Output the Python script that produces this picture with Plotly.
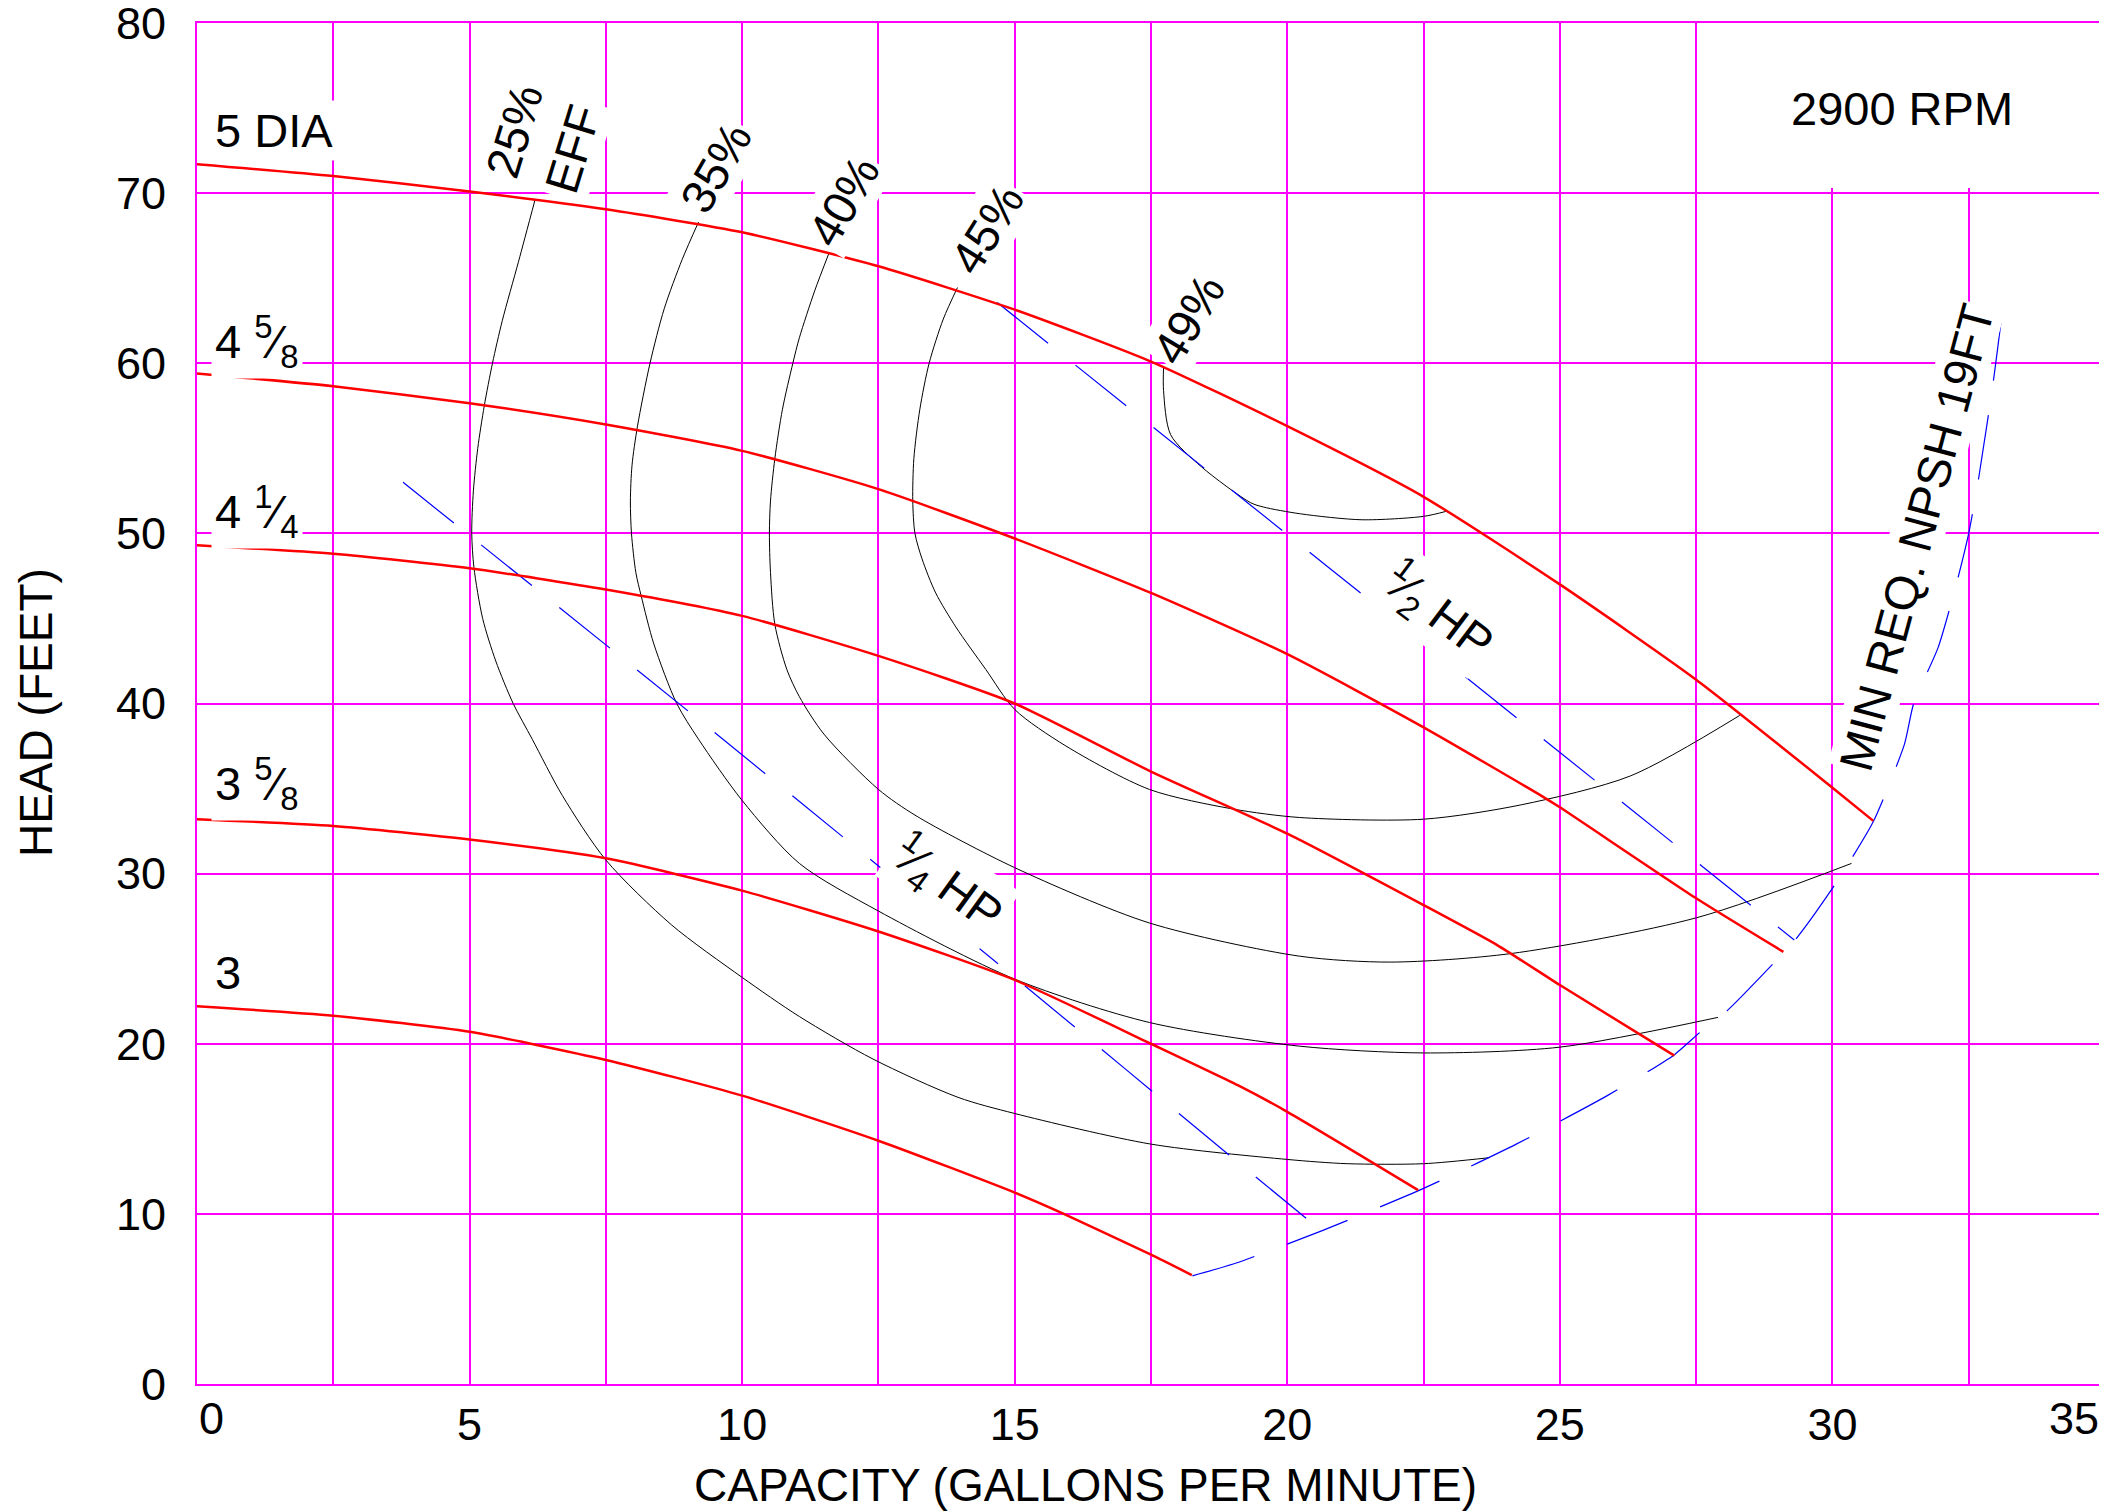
"""Pump performance curve: head vs capacity, 2900 RPM."""

import plotly.graph_objects as go

FONT = "Liberation Sans, Arial, sans-serif"
MAGENTA = "#FF00FF"
RED = "#FF0000"
BLUE = "#0000FF"

# --- head curves per impeller diameter (GPM, feet) ---
dia_5_x = [0, 2.5, 5, 7.5, 10, 12.5, 15, 17.5, 20, 22.5, 25, 27.5, 30, 30.75]
dia_5_y = [71.7, 71.0, 70.1, 69.05, 67.7, 65.7, 63.15, 60.1, 56.3, 52.15, 47.0, 41.4, 35.05, 33.1]

dia_4_58_x = [0, 2.5, 5, 7.5, 10, 12.5, 15, 17.5, 20, 22.5, 24.7, 25, 27.5, 29.1]
dia_4_58_y = [59.4, 58.65, 57.65, 56.4, 54.85, 52.6, 49.7, 46.5, 42.9, 38.6, 34.5, 33.9, 28.55, 25.4]

dia_4_14_x = [0, 2.5, 5, 7.5, 10, 12.5, 15, 17.5, 20, 22.5, 23.85, 25, 27.1]
dia_4_14_y = [49.3, 48.8, 47.95, 46.7, 45.15, 42.8, 40.0, 36.0, 32.35, 28.15, 25.8, 23.45, 19.3]

dia_3_58_x = [0, 2.5, 5, 7.5, 10, 12.5, 15, 17.5, 19.1, 20, 22.4]
dia_3_58_y = [33.2, 32.8, 32.0, 30.9, 29.0, 26.6, 23.75, 20.0, 17.55, 16.0, 11.4]

dia_3_x = [0, 2.5, 5, 7.5, 10, 12.5, 15, 15.9, 17.5, 18.25]
dia_3_y = [22.2, 21.65, 20.7, 19.05, 16.95, 14.3, 11.25, 10.0, 7.6, 6.4]

# --- efficiency contours ---
eff_25_x = [6.2, 5.9, 5.6, 5.42, 5.27, 5.15, 5.07, 5.04, 5.08, 5.24, 5.48, 5.8, 6.15, 6.7,
            7.5, 8.7, 10, 11.05, 12.4, 13.96, 15, 17.5, 20, 21.1, 22.5, 23.7]
eff_25_y = [69.6, 66.0, 62.5, 60.0, 57.5, 55.0, 52.5, 50.0, 48.0, 45.0, 42.5, 40.0, 37.9, 34.6,
            30.8, 27.0, 23.9, 21.6, 19.1, 16.85, 15.9, 14.1, 13.2, 12.95, 12.95, 13.3]

eff_35_x = [9.2, 8.9, 8.57, 8.31, 8.08, 7.98, 7.95, 7.97, 8.05, 8.15, 8.38, 8.8, 9.2, 10, 11.05,
            12.5, 15, 17.47, 20.22, 22.5, 25, 27.9]
eff_35_y = [68.3, 66.1, 63.2, 60.0, 56.3, 54.0, 51.9, 50.0, 47.7, 46.3, 43.5, 40.0, 37.9, 34.3, 30.6,
            27.8, 23.8, 21.25, 19.86, 19.46, 19.8, 21.55]

eff_40_x = [11.59, 11.33, 11.05, 10.93, 10.74, 10.6, 10.52, 10.5, 10.52, 10.6, 10.82, 11.05, 11.5,
            12.5, 13.19, 15, 17.47, 20.22, 21.9, 24.1, 27.5, 30.35]
eff_40_y = [66.45, 64.25, 61.5, 60.0, 57.3, 54.4, 51.9, 50.0, 47.7, 44.65, 42.0, 40.4, 38.2,
            34.95, 33.4, 30.35, 27.1, 25.15, 24.8, 25.3, 27.4, 30.6]

eff_45_x = [13.95, 13.69, 13.43, 13.26, 13.15, 13.13, 13.17, 13.3, 13.55, 13.92, 14.47, 15.0,
            15.94, 17.47, 19.0, 20.22, 22.5, 24.3, 26.3, 28.3]
eff_45_y = [64.45, 62.6, 60.0, 57.3, 54.4, 51.9, 50.0, 48.5, 46.5, 44.5, 42.0, 39.65,
            37.5, 34.95, 33.8, 33.3, 33.2, 34.05, 35.75, 39.3]

eff_49_x = [17.73, 17.73, 17.86, 18.43, 19.33, 19.56, 20.24, 21.37, 22.5, 22.92]
eff_49_y = [59.75, 58.4, 55.8, 53.9, 51.8, 51.55, 51.15, 50.8, 51.0, 51.3]

# --- power lines and NPSH limit ---
hp_quarter_x = [3.78, 9.07, 15.0, 19.22, 20.63]
hp_quarter_y = [53.0, 39.4, 23.9, 12.7, 9.0]

hp_half_x = [14.68, 19.31, 22.24, 29.3]
hp_half_y = [63.57, 51.7, 44.2, 26.1]

npsh_x = [18.26, 19.05, 20.63, 22.5, 24.2, 25.87, 27.09, 27.58, 28.07, 28.94, 29.34, 30.07,
          30.75, 31.32, 31.49, 31.94, 32.28, 32.5, 32.67, 32.95, 33.15]
npsh_y = [6.36, 7.1, 9.0, 11.5, 14.1, 16.95, 19.33, 20.7, 21.95, 24.8, 26.2, 29.47,
          33.06, 37.6, 40.0, 43.3, 47.1, 50.0, 53.0, 58.9, 63.9]

x_ticks = [0, 2.5, 5, 7.5, 10, 12.5, 15, 17.5, 20, 22.5, 25, 27.5, 30, 32.5, 35]
x_tick_text = ["", "", "5", "", "10", "", "15", "", "20", "", "25", "", "30", "", ""]
y_ticks = [0, 10, 20, 30, 40, 50, 60, 70, 80]

fig = go.Figure()

# white box behind the RPM label (hides the grid there)
fig.add_shape(type="rect", x0=27.6, x1=35, y0=70.3, y1=80, xref="x", yref="y",
              fillcolor="white", line_width=0, layer="between")

for xs, ys in [(eff_25_x, eff_25_y), (eff_35_x, eff_35_y), (eff_40_x, eff_40_y),
               (eff_45_x, eff_45_y), (eff_49_x, eff_49_y)]:
    fig.add_trace(go.Scatter(x=xs, y=ys, mode="lines",
                             line=dict(color="black", width=1, shape="spline", smoothing=0.8),
                             showlegend=False, hoverinfo="skip"))

for xs, ys in [(hp_quarter_x, hp_quarter_y), (hp_half_x, hp_half_y), (npsh_x, npsh_y)]:
    fig.add_trace(go.Scatter(x=xs, y=ys, mode="lines",
                             line=dict(color=BLUE, width=1.2, dash="65px,35px",
                                       shape="spline", smoothing=0.6),
                             showlegend=False, hoverinfo="skip"))

for xs, ys in [(dia_5_x, dia_5_y), (dia_4_58_x, dia_4_58_y), (dia_4_14_x, dia_4_14_y),
               (dia_3_58_x, dia_3_58_y), (dia_3_x, dia_3_y)]:
    fig.add_trace(go.Scatter(x=xs, y=ys, mode="lines",
                             line=dict(color=RED, width=2.5, shape="spline", smoothing=0.6),
                             showlegend=False, hoverinfo="skip"))

lbl = dict(size=47, color="black", family=FONT)
annots = []

# diameter labels
for text, y in [("5 DIA", 73.7), ("4 <sup>5</sup>⁄<sub>8</sub>", 61.3),
                ("4 <sup>1</sup>⁄<sub>4</sub>", 51.3), ("3 <sup>5</sup>⁄<sub>8</sub>", 35.3),
                ("3", 24.2)]:
    annots.append(dict(x=0.25, y=y, text=text, xanchor="left", yanchor="middle",
                       showarrow=False, font=lbl, bgcolor="white", borderpad=3))

# rotated curve labels
for text, x, y, ang, pad in [("25%<br>EFF", 6.36, 73.1, -73, 2), ("35%", 9.52, 71.5, -60, 2),
                             ("40%", 11.86, 69.5, -60, 2), ("45%", 14.5, 67.9, -58, 2),
                             ("49%", 18.18, 62.6, -59, 2),
                             ("<sup>1</sup>⁄<sub>2</sub> HP", 22.77, 45.4, 37, 2),
                             ("<sup>1</sup>⁄<sub>4</sub> HP", 13.76, 29.4, 36, 2),
                             ("MIN REQ. NPSH 19FT", 31.55, 49.8, -75, 0)]:
    annots.append(dict(x=x, y=y, text=text, textangle=ang, showarrow=False, font=lbl,
                       bgcolor="white", borderpad=pad))

annots.append(dict(x=31.28, y=75.0, text="2900 RPM", showarrow=False, font=lbl))

# edge tick labels and axis titles
tick_font = dict(size=45, color="black", family=FONT)
annots.append(dict(x=0, y=-0.025, yref="paper", text="0", xanchor="left", yanchor="middle",
                   showarrow=False, font=tick_font))
annots.append(dict(x=35, y=-0.025, yref="paper", text="35", xanchor="right", yanchor="middle",
                   xshift=-4, showarrow=False, font=tick_font))
annots.append(dict(x=16.3, y=-0.074, yref="paper", text="CAPACITY (GALLONS PER MINUTE)",
                   yanchor="middle", showarrow=False,
                   font=dict(size=46, color="black", family=FONT)))
annots.append(dict(x=-0.0844, xref="paper", y=39.5, text="HEAD (FEET)", textangle=-90,
                   xanchor="center", yanchor="middle", showarrow=False,
                   font=dict(size=46, color="black", family=FONT)))

# page body adds an 8px margin, so the figure is 8px smaller and shifted
fig.update_layout(
    width=2099, height=1504,
    margin=dict(l=189, r=2, t=15, b=128),
    paper_bgcolor="white", plot_bgcolor="white",
    font=dict(family=FONT, color="black"),
    annotations=annots,
    showlegend=False,
    xaxis=dict(range=[0, 35], tickmode="array", tickvals=x_ticks, ticktext=x_tick_text,
               showgrid=True, gridcolor=MAGENTA, gridwidth=1.5, zeroline=False,
               showline=True, linecolor=MAGENTA, linewidth=2, mirror=True,
               ticks="", ticklabelstandoff=0, ticklabeloverflow="allow", automargin=False,
               tickfont=tick_font, fixedrange=True),
    yaxis=dict(range=[0, 80], tickmode="array", tickvals=y_ticks,
               showgrid=True, gridcolor=MAGENTA, gridwidth=1.5, zeroline=False,
               showline=True, linecolor=MAGENTA, linewidth=2, mirror=True,
               ticks="", ticklabelstandoff=20, ticklabeloverflow="allow", automargin=False,
               tickfont=tick_font, fixedrange=True),
)

fig.write_html("out.html")
